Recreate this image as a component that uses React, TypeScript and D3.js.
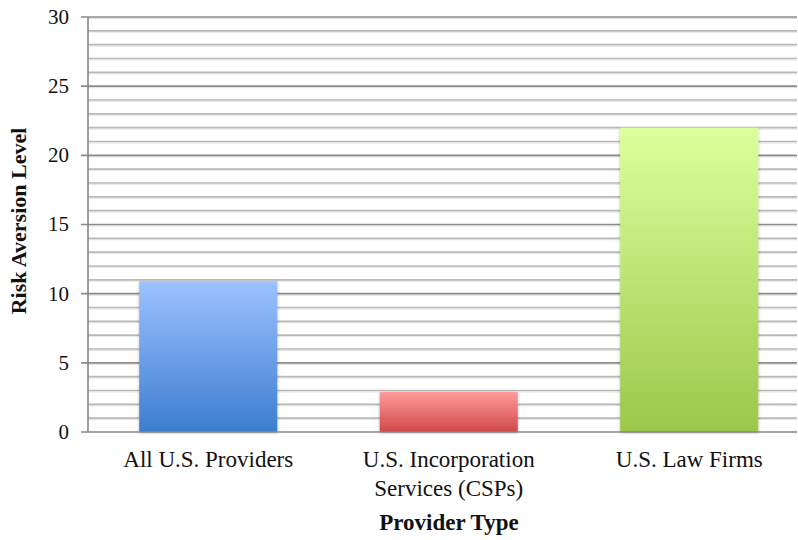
import React from "react";
import * as d3 from "d3";

const categories = ["All U.S. Providers", "U.S. Incorporation\nServices (CSPs)", "U.S. Law Firms"];
const values = [10.9, 2.9, 22];
const yTicks = [0, 5, 10, 15, 20, 25, 30];
const gradients = [
  ["#9cc2ff", "#3c7dd0"],
  ["#ff9c9c", "#d04848"],
  ["#dcff9c", "#9cc84a"],
];

export default function App() {
  const W = 798, H = 540;
  const m = { left: 88, right: 797, top: 17, bottom: 432 };
  const step = 240.5;
  const x = d3.scaleBand<number>().domain(d3.range(categories.length)).range([m.left, m.left + step * 3]).paddingInner(0.426).paddingOuter(0.213);
  const y = d3.scaleLinear().domain([0, 30]).range([m.bottom, m.top]);
  const minor = d3.range(0, 31, 1);
  const font = "'Liberation Serif', 'Times New Roman', serif";
  return (
    <svg width={W} height={H} style={{ position: "absolute", left: 0, top: 0, background: "#fff" }}>
      <defs>
        {gradients.map((g, i) => (
          <linearGradient key={i} id={`g${i}`} x1="0" y1="0" x2="0" y2="1">
            <stop offset="0" stopColor={g[0]} />
            <stop offset="1" stopColor={g[1]} />
          </linearGradient>
        ))}
        <filter id="sh" x="-10%" y="-10%" width="120%" height="120%">
          <feGaussianBlur in="SourceAlpha" stdDeviation="1.5" />
          <feOffset dx="0" dy="0.5" result="b" />
          <feComponentTransfer><feFuncA type="linear" slope="0.3" /></feComponentTransfer>
          <feMerge><feMergeNode /><feMergeNode in="SourceGraphic" /></feMerge>
        </filter>
      </defs>
      {minor.filter((v) => v % 5 !== 0).map((v) => (
        <g key={`mi${v}`}>
          <line x1={m.left} x2={m.right} y1={y(v) + 1.5} y2={y(v) + 1.5} stroke="#e6e6e6" strokeWidth={1} />
          <line x1={m.left} x2={m.right} y1={y(v)} y2={y(v)} stroke="#b8b8b8" strokeWidth={1.6} />
        </g>
      ))}
      {yTicks.filter((v) => v > 0).map((v) => (
        <g key={`ma${v}`}>
          <line x1={m.left} x2={m.right} y1={y(v) + 1.5} y2={y(v) + 1.5} stroke="#dedede" strokeWidth={1} />
          <line x1={m.left - 7} x2={m.right} y1={y(v)} y2={y(v)} stroke="#8c8c8c" strokeWidth={1.6} />
        </g>
      ))}
      {values.map((v, i) => (
        <rect key={i} x={x(i)} y={y(v)} width={x.bandwidth()} height={y(0) - y(v)} fill={`url(#g${i})`} filter="url(#sh)" />
      ))}
      <line x1={m.left} x2={m.left} y1={m.top} y2={m.bottom} stroke="#868686" strokeWidth={1.6} />
      <line x1={m.left - 7} x2={m.right} y1={m.bottom} y2={m.bottom} stroke="#868686" strokeWidth={1.6} />
      {yTicks.map((v) => (
        <text key={`t${v}`} x={m.left - 19} y={y(v)} dy="0.33em" textAnchor="end" fontFamily={font} fontSize={21} fill="#111">{v}</text>
      ))}
      {categories.map((c, i) => (
        <text key={`c${i}`} x={(x(i) as number) + x.bandwidth() / 2} y={467} textAnchor="middle" fontFamily={font} fontSize={23} fill="#111">
          {c.split("\n").map((line, j) => (
            <tspan key={j} x={(x(i) as number) + x.bandwidth() / 2} dy={j === 0 ? 0 : 29}>{line}</tspan>
          ))}
        </text>
      ))}
      <text x={449} y={530} textAnchor="middle" fontFamily={font} fontSize={23} fontWeight="bold" fill="#111">Provider Type</text>
      <text transform={`translate(26, 221) rotate(-90)`} textAnchor="middle" fontFamily={font} fontSize={22} fontWeight="bold" fill="#111">Risk Aversion Level</text>
    </svg>
  );
}
